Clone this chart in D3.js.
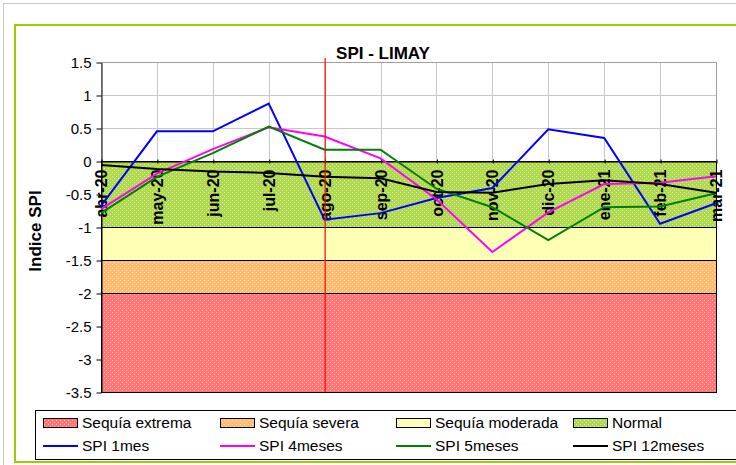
<html>
<style>
body { margin: 0; background: #fff; }
text { font-family: Arial, "Liberation Sans", sans-serif; }
</style>
<svg width="736" height="465"></svg>
<script src="https://d3js.org/d3.v7.min.js"></script>
<script>

var months = ["abr-20","may-20","jun-20","jul-20","ago-20","sep-20","oct-20","nov-20","dic-20","ene-21","feb-21","mar-21"];

var spi1  = [-0.68, 0.45, 0.45, 0.87, -0.89, -0.79, -0.56, -0.41, 0.48, 0.35, -0.95, -0.64];
var spi4  = [-0.73, -0.19, 0.18, 0.51, 0.37, 0.04, -0.58, -1.38, -0.78, -0.35, -0.33, -0.23];
var spi5  = [-0.79, -0.24, 0.12, 0.52, 0.17, 0.17, -0.42, -0.7, -1.2, -0.7, -0.69, -0.49];
var spi12 = [-0.06, -0.12, -0.16, -0.18, -0.24, -0.26, -0.47, -0.48, -0.35, -0.29, -0.35, -0.48];

var yTicks = [1.5, 1, 0.5, 0, -0.5, -1, -1.5, -2, -2.5, -3, -3.5];

// bands: name, top, bottom
var bandNames = ["Sequía extrema", "Sequía severa", "Sequía moderada", "Normal"];
var bandTop    = [-2, -1.5, -1, 0];
var bandBottom = [-3.5, -2, -1.5, -1];
var bandBase   = ["#ff7676", "#ffbc70", "#ffffb0", "#b0d850"];
var bandDot    = ["#ffb4b4", "#ffdcb0", "#ffffe0", "#d4f090"];

var seriesNames  = ["SPI 1mes", "SPI 4meses", "SPI 5meses", "SPI 12meses"];
var seriesVals   = [spi1, spi4, spi5, spi12];
var seriesColors = ["#0000ff", "#ff00ff", "#008000", "#000000"];

var markMonth = "ago-20";

var svg = d3.select("svg");

// frames
svg.append("rect").attr("x", 3.5).attr("y", 3.5).attr("width", 740).attr("height", 470)
  .attr("fill", "none").attr("stroke", "#c8c8c8");
svg.append("rect").attr("x", 15).attr("y", 25).attr("width", 740).attr("height", 437)
  .attr("fill", "none").attr("stroke", "#9fcc00").attr("stroke-width", 2);

var pLeft = 101, pRight = 716, pTop = 62, pBottom = 392;

var x = d3.scalePoint().domain(months).range([pLeft, pRight]);
var y = d3.scaleLinear().domain([-3.5, 1.5]).range([pBottom, pTop]);

// patterns (dither look)
var defs = svg.append("defs");
bandNames.forEach(function(n, i) {
  var p = defs.append("pattern").attr("id", "pat" + i)
    .attr("patternUnits", "userSpaceOnUse").attr("width", 4).attr("height", 4);
  p.append("rect").attr("width", 4).attr("height", 4).attr("fill", bandBase[i])
    .attr("shape-rendering", "crispEdges");
  [[0,0],[2,2]].forEach(function(c) {
    p.append("rect").attr("x", c[0]).attr("y", c[1]).attr("width", 1).attr("height", 1)
      .attr("fill", bandDot[i]).attr("shape-rendering", "crispEdges");
  });
});

// gridlines
svg.append("g").selectAll("line").data(yTicks.filter(function(d) { return d > 0; }))
  .enter().append("line")
  .attr("x1", pLeft).attr("x2", pRight)
  .attr("y1", function(d) { return y(d) + 0.5; }).attr("y2", function(d) { return y(d) + 0.5; })
  .attr("stroke", "#c8c8c8");
svg.append("g").selectAll("line").data(months)
  .enter().append("line")
  .attr("x1", function(d) { return Math.round(x(d)) + 0.5; }).attr("x2", function(d) { return Math.round(x(d)) + 0.5; })
  .attr("y1", pTop).attr("y2", y(0))
  .attr("stroke", "#c8c8c8");

// bands
svg.append("g").selectAll("rect").data(bandNames)
  .enter().append("rect")
  .attr("x", pLeft + 0.5).attr("width", pRight - pLeft)
  .attr("y", function(d, i) { return y(bandTop[i]) + 0.5; })
  .attr("height", function(d, i) { return y(bandBottom[i]) - y(bandTop[i]); })
  .attr("fill", function(d, i) { return "url(#pat" + i + ")"; })
  .attr("stroke", "#000").attr("stroke-width", 1);

// plot border
svg.append("path")
  .attr("d", "M" + (pLeft + 0.5) + "," + (pTop + 0.5) + "H" + (pRight + 0.5) + "V" + (y(0) + 0.5))
  .attr("fill", "none").attr("stroke", "#a0a0a0");

// y axis
var yAxis = svg.append("g").attr("transform", "translate(" + (pLeft + 0.5) + ",0.5)")
  .call(d3.axisLeft(y).tickValues(yTicks).tickSize(5).tickSizeOuter(0).tickPadding(5).tickFormat(function(d) { return d; }));
yAxis.select(".domain").attr("stroke", "#000");
yAxis.selectAll("text").attr("font-size", 15).attr("fill", "#000")
  .style("font-family", "Arial, 'Liberation Sans', sans-serif");

// x axis along zero
var xAxis = svg.append("g").attr("transform", "translate(0," + (y(0) + 0.5) + ")")
  .call(d3.axisBottom(x).tickSize(4).tickSizeOuter(0));
xAxis.select(".domain").attr("stroke", "#000");
xAxis.selectAll(".tick line").attr("transform", "translate(0.5,-2)");
xAxis.selectAll("text")
  .attr("transform", "rotate(-90)")
  .attr("x", -8).attr("y", 0).attr("dy", "0.35em")
  .attr("text-anchor", "end")
  .attr("font-size", 16).attr("font-weight", "bold").attr("fill", "#000")
  .style("font-family", "Arial, 'Liberation Sans', sans-serif");

// series
var line = d3.line()
  .x(function(d, i) { return x(months[i]); })
  .y(function(d) { return y(d); });
svg.append("g").selectAll("path").data(seriesVals)
  .enter().append("path")
  .attr("d", line)
  .attr("fill", "none")
  .attr("stroke", function(d, i) { return seriesColors[i]; })
  .attr("stroke-width", 2);

// marker line
svg.append("line").attr("x1", x(markMonth) + 0.5).attr("x2", x(markMonth) + 0.5)
  .attr("y1", 58).attr("y2", pBottom).attr("stroke", "#ff0000").attr("stroke-width", 1.2);

// title & labels
svg.append("text").attr("x", 383).attr("y", 59).attr("text-anchor", "middle")
  .attr("font-size", 17).attr("font-weight", "bold").text("SPI - LIMAY");
svg.append("text").attr("transform", "translate(41,231) rotate(-90)").attr("text-anchor", "middle")
  .attr("font-size", 17).attr("font-weight", "bold").text("Indice SPI");

// legend
var lg = svg.append("g");
lg.append("rect").attr("x", 35.5).attr("y", 410.5).attr("width", 720).attr("height", 49)
  .attr("fill", "#fff").attr("stroke", "#000");
var colX = [43, 220, 396, 573];
bandNames.forEach(function(n, i) {
  lg.append("rect").attr("x", colX[i] + 0.5).attr("y", 418.5).attr("width", 34).attr("height", 9)
    .attr("fill", "url(#pat" + i + ")").attr("stroke", "#000");
  lg.append("text").attr("x", colX[i] + 39).attr("y", 428).attr("font-size", 15.5).text(n);
});
seriesNames.forEach(function(n, i) {
  lg.append("line").attr("x1", colX[i]).attr("x2", colX[i] + 35).attr("y1", 446).attr("y2", 446)
    .attr("stroke", seriesColors[i]).attr("stroke-width", 2);
  lg.append("text").attr("x", colX[i] + 39).attr("y", 451).attr("font-size", 15.5).text(n);
});

</script>
</html>
